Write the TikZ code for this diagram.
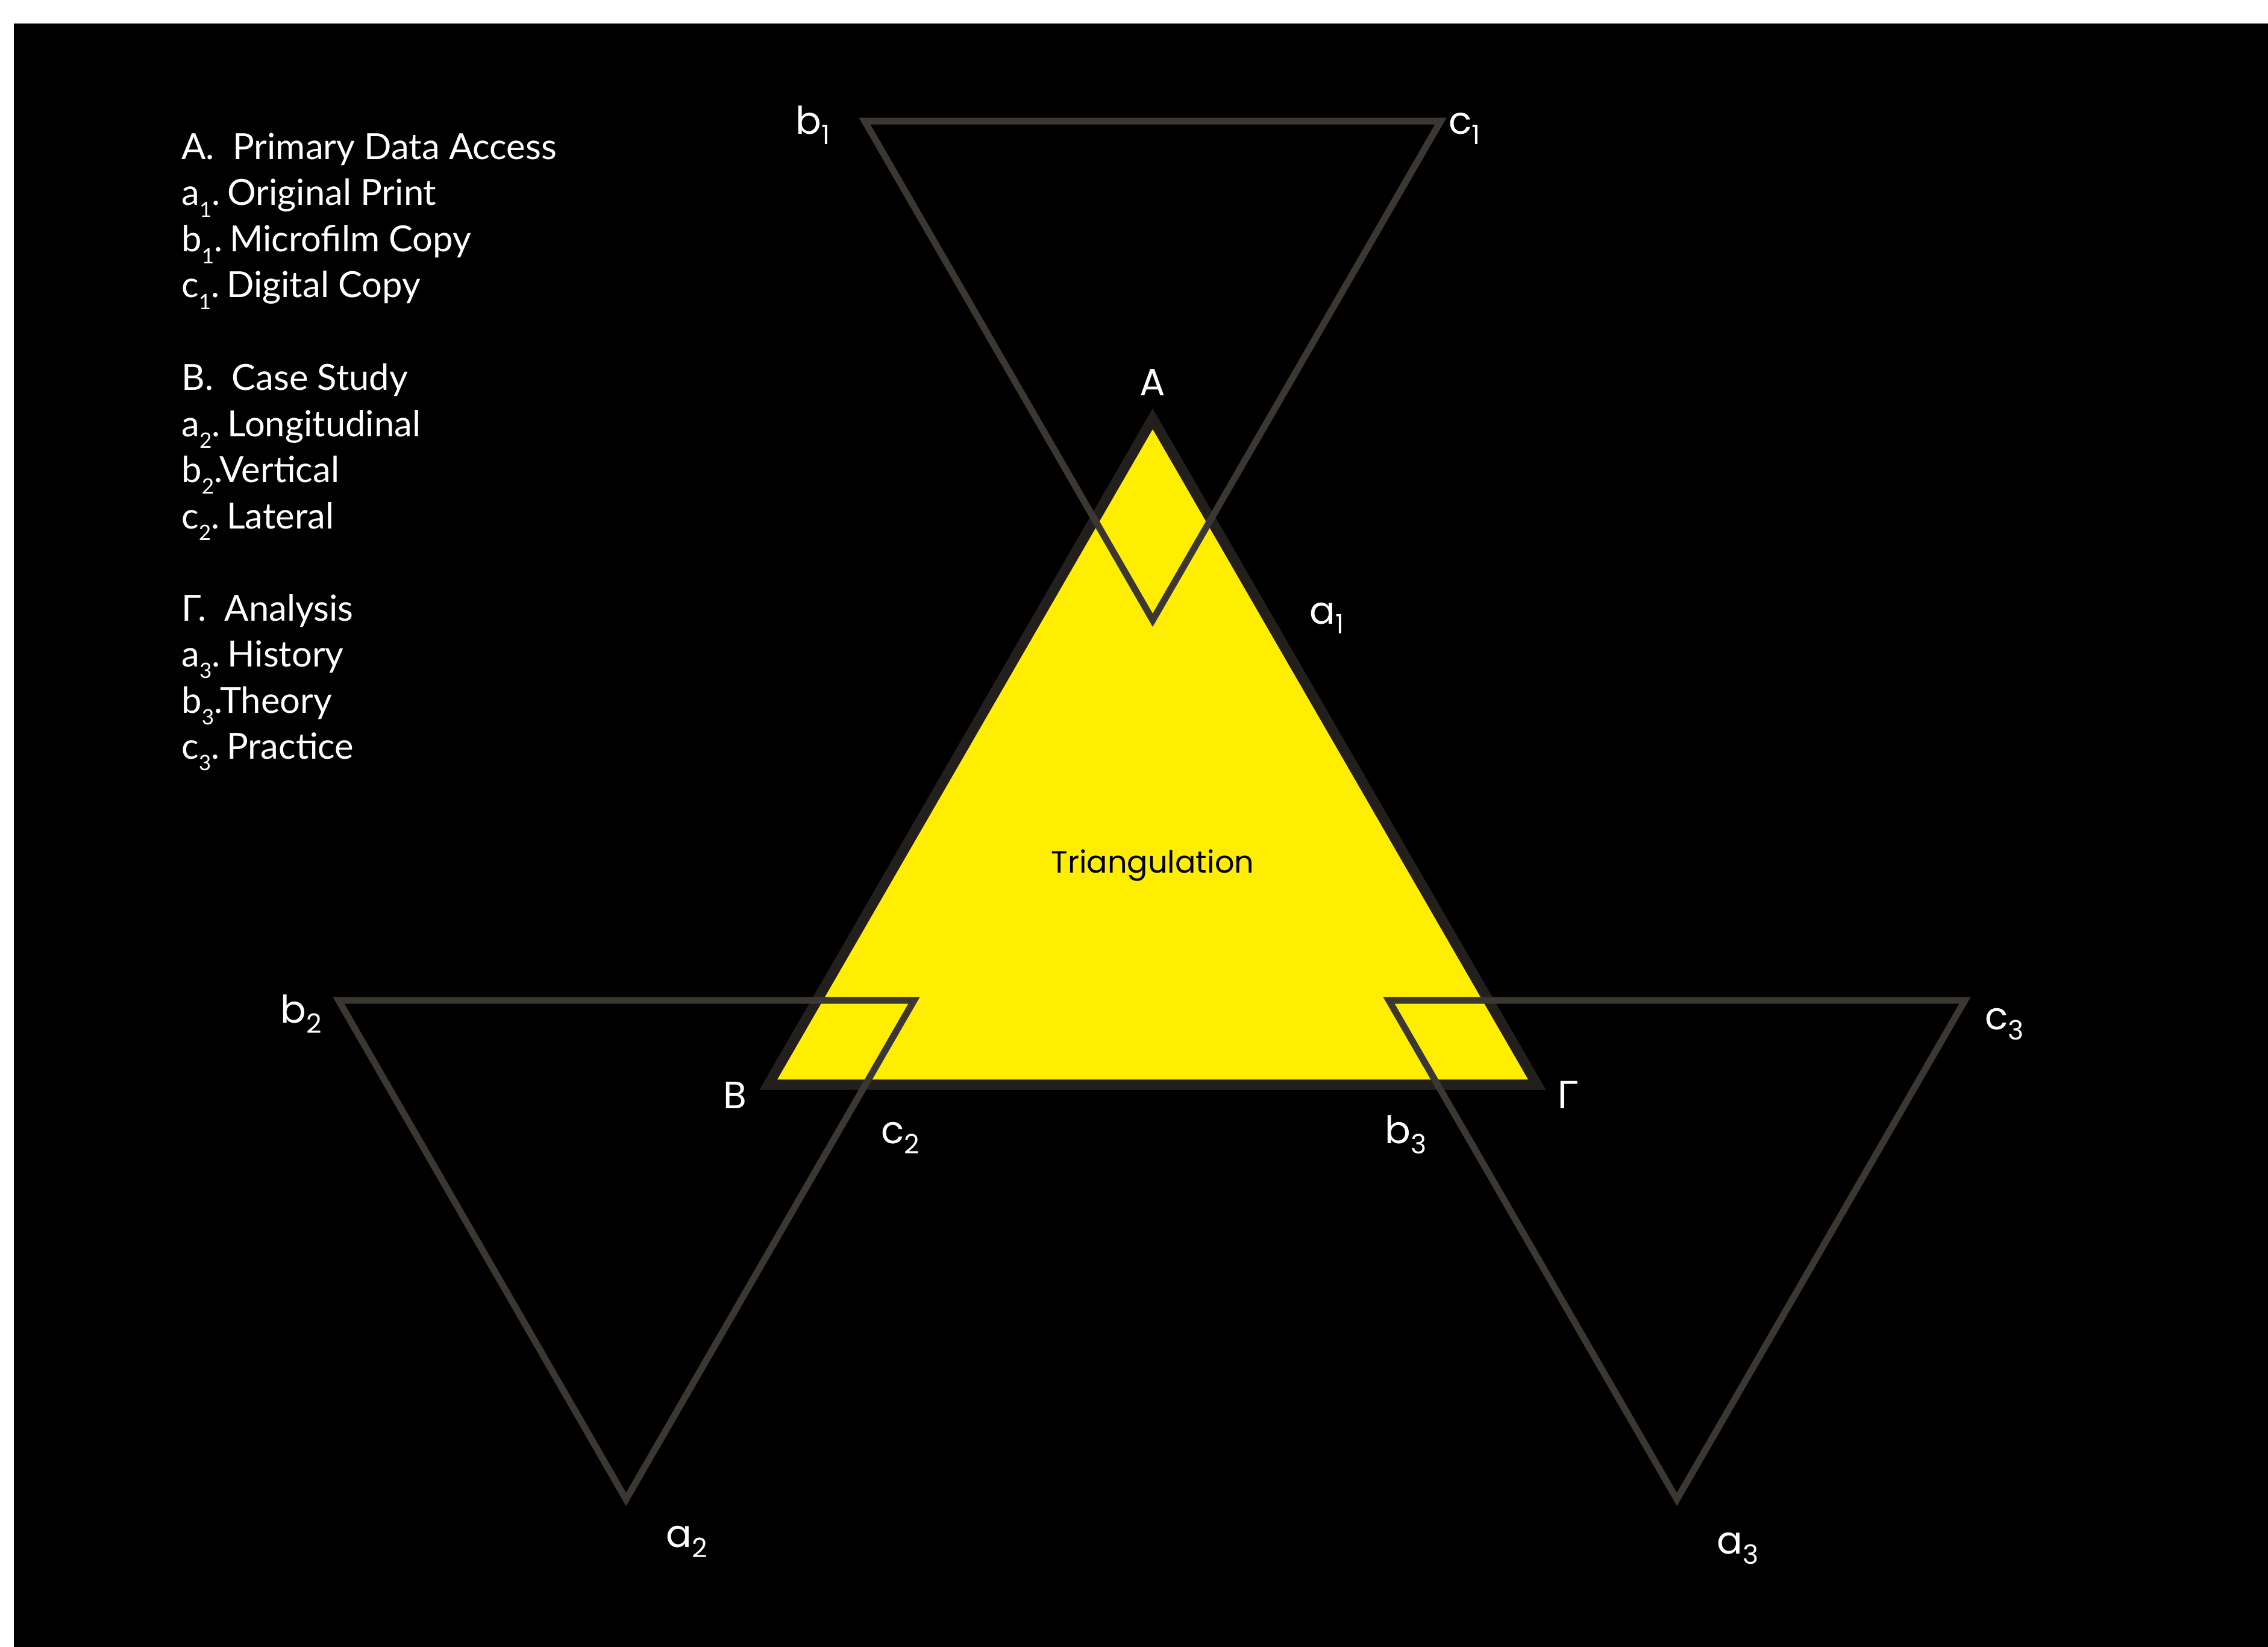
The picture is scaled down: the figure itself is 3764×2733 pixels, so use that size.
\documentclass[tikz,border=0pt]{standalone}
\usepackage{fontspec}
\setmainfont{Lato}
\newfontfamily\labfont{Poppins}
\newfontfamily\grfont{Lato}
\definecolor{ylw}{RGB}{255,238,0}
\definecolor{edgedark}{RGB}{35,31,28}
\definecolor{edgegray}{RGB}{59,55,51}
\newcommand\lsub[1]{\raisebox{-0.33em}{\fontsize{20}{20}\selectfont #1}}
\begin{document}
\begin{tikzpicture}[x=0.02cm,y=-0.02cm,
  legend/.style={anchor=base west,inner sep=0,text=white,font=\fontsize{34}{40}\selectfont},
  vlab/.style={anchor=base west,inner sep=0,text=white,font=\labfont\fontsize{36}{40}\selectfont},
  outl/.style={draw=edgegray,line width=6.3pt,line join=miter},
  core/.style={draw=edgedark,fill=ylw,line width=9.7pt,line join=miter}]
\useasboundingbox (0,0) rectangle (3764,2733);
\fill[white] (0,0) rectangle (3764,2733);
\fill[black] (23,39) rectangle (3764,2733);

% vertices
\coordinate (A) at (1913,695);
\coordinate (B) at (1275,1800);
\coordinate (G) at (2551,1800);
\coordinate (b1) at (1435,201);
\coordinate (c1) at (2391,201);
\coordinate (a1) at (1913,1029);
\coordinate (b2) at (562,1660);
\coordinate (c2) at (1517,1660);
\coordinate (a2) at (1039,2488);
\coordinate (b3) at (2305,1660);
\coordinate (c3) at (3261,1660);
\coordinate (a3) at (2783,2488);

\draw[core] (A) -- (B) -- (G) -- cycle;
\draw[outl] (b1) -- (c1) -- (a1) -- cycle;
\draw[outl] (b2) -- (c2) -- (a2) -- cycle;
\draw[outl] (b3) -- (c3) -- (a3) -- cycle;

% diagram labels
\node[vlab] (lA) at (1891,656) {A};
\node[vlab] (lB) at (1200,1839) {B};
\node[vlab,font=\grfont\fontsize{36}{40}\selectfont] (lG) at (2584,1839) {Γ};
\node[vlab] (la1) at (2173,1035) {a\textsubscript{1}};
\node[vlab] (lb1) at (1320,223) {b\textsubscript{1}};
\node[vlab] (lc1) at (2404,223) {c\textsubscript{1}};
\node[vlab] (lb2) at (465,1697) {b\textsubscript{2}};
\node[vlab] (lc2) at (1462,1897) {c\textsubscript{2}};
\node[vlab] (la2) at (1105,2567) {a\textsubscript{2}};
\node[vlab] (lb3) at (2298,1897) {b\textsubscript{3}};
\node[vlab] (lc3) at (3294,1708) {c\textsubscript{3}};
\node[vlab] (la3) at (2849,2578) {a\textsubscript{3}};
\node[anchor=base,inner sep=0,text=black,font=\labfont\fontsize{29}{34}\selectfont] (tri) at (1913,1448) {Triangulation};

% legend
\node[legend] (g1) at (301,265) {A.\ \ Primary Data Access};
\node[legend] (g2) at (301,341) {a\lsub{1}.\hspace{0.2em}Original Print};
\node[legend] (g3) at (301,418) {b\lsub{1}.\hspace{0.2em}Microfilm Copy};
\node[legend] (g4) at (301,494) {c\lsub{1}.\hspace{0.2em}Digital Copy};
\node[legend] (g5) at (301,647) {B.\ \ Case Study};
\node[legend] (g6) at (301,724) {a\lsub{2}.\hspace{0.2em}Longitudinal};
\node[legend] (g7) at (301,800) {b\lsub{2}.Vertical};
\node[legend] (g8) at (301,877) {c\lsub{2}.\hspace{0.2em}Lateral};
\node[legend] (g9) at (301,1030) {Γ.\ \ Analysis};
\node[legend] (g10) at (301,1106) {a\lsub{3}.\hspace{0.2em}History};
\node[legend] (g11) at (301,1183) {b\lsub{3}.Theory};
\node[legend] (g12) at (301,1259) {c\lsub{3}.\hspace{0.2em}Practice};
\end{tikzpicture}
\end{document}
